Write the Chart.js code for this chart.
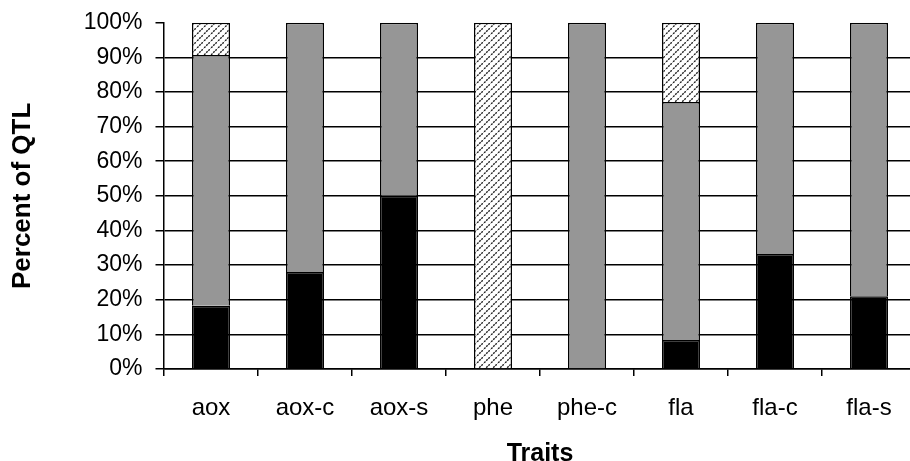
<!DOCTYPE html>
<html>
<head>
<meta charset="utf-8">
<script src="https://cdn.jsdelivr.net/npm/chart.js@4.4.0/dist/chart.umd.min.js"></script>
<style>
  html, body { margin: 0; padding: 0; background: #fff; overflow: hidden; }
  #wrap { width: 916px; height: 461px; overflow: hidden; }
</style>
</head>
<body>
<div id="wrap"><canvas id="qtlChart" width="916" height="461"></canvas></div>
<script>
const categories = ["aox", "aox-c", "aox-s", "phe", "phe-c", "fla", "fla-c", "fla-s"];
const blackVals = [18.3, 28, 50, null, null, 8.4, 33.2, 21];
const grayVals = [72.4, 72, 50, null, 100, 68.7, 66.8, 79];
const hatchVals = [9.3, null, null, 100, null, 22.9, null, null];
const yTicks = [0, 10, 20, 30, 40, 50, 60, 70, 80, 90, 100];

function makeHatch() {
  const size = 7;
  const c = document.createElement("canvas");
  c.width = size;
  c.height = size;
  const g = c.getContext("2d");
  g.fillStyle = "#fff";
  g.fillRect(0, 0, size, size);
  g.strokeStyle = "#222";
  g.lineWidth = 1.4;
  g.setLineDash([2, 1]);
  g.beginPath();
  g.moveTo(-1, size + 1);
  g.lineTo(size + 1, -1);
  g.stroke();
  return g.createPattern(c, "repeat");
}

const font = "'Liberation Sans', Arial, sans-serif";

const ctx = document.getElementById("qtlChart").getContext("2d");
new Chart(ctx, {
  type: "bar",
  data: {
    labels: categories,
    datasets: [
      { data: blackVals, backgroundColor: "#000", borderColor: "#000", borderWidth: 1.5 },
      { data: grayVals, backgroundColor: "#969696", borderColor: "#000", borderWidth: 1.5 },
      { data: hatchVals, backgroundColor: makeHatch(), borderColor: "#000", borderWidth: 1.5 },
    ],
  },
  options: {
    responsive: false,
    animation: false,
    devicePixelRatio: 1,
    layout: { padding: { top: 22.7, right: 0, left: 0, bottom: 0 } },
    datasets: { bar: { categoryPercentage: 1, barPercentage: 0.405 } },
    plugins: { legend: { display: false }, tooltip: { enabled: false } },
    scales: {
      x: {
        stacked: true,
        grid: { drawOnChartArea: false, drawTicks: true, tickLength: 7, color: "#000", lineWidth: 1.5 },
        border: { color: "#000", width: 1.5 },
        ticks: { color: "#000", font: { family: font, size: 24 }, padding: 18, maxRotation: 0 },
        title: {
          display: true, text: "Traits", color: "#000",
          font: { family: font, size: 25, weight: "bold", lineHeight: 0.6 },
          padding: { top: 4, bottom: -1 },
        },
        afterFit: (scale) => { scale.height = 92; },
      },
      y: {
        stacked: true,
        min: 0,
        max: 100,
        afterBuildTicks: (scale) => { scale.ticks = yTicks.map((v) => ({ value: v })); },
        grid: {
          color: (c) => (c.tick && c.tick.value === 100 ? "rgba(0,0,0,0)" : "#000"),
          tickColor: "#000",
          lineWidth: 1.5,
          tickLength: 8.5,
        },
        border: { color: "#000", width: 1.5 },
        ticks: { color: "#000", font: { family: font, size: 23 }, padding: 13, callback: (v) => v + "%" },
        title: {
          display: true, text: "Percent of QTL", color: "#000",
          font: { family: font, size: 26, weight: "bold" },
          padding: { top: 7, bottom: 0 },
        },
        afterFit: (scale) => {
          scale.width = 164;
          scale.paddingTop = 0;
          scale.paddingBottom = 0;
        },
      },
    },
  },
});
</script>
</body>
</html>
